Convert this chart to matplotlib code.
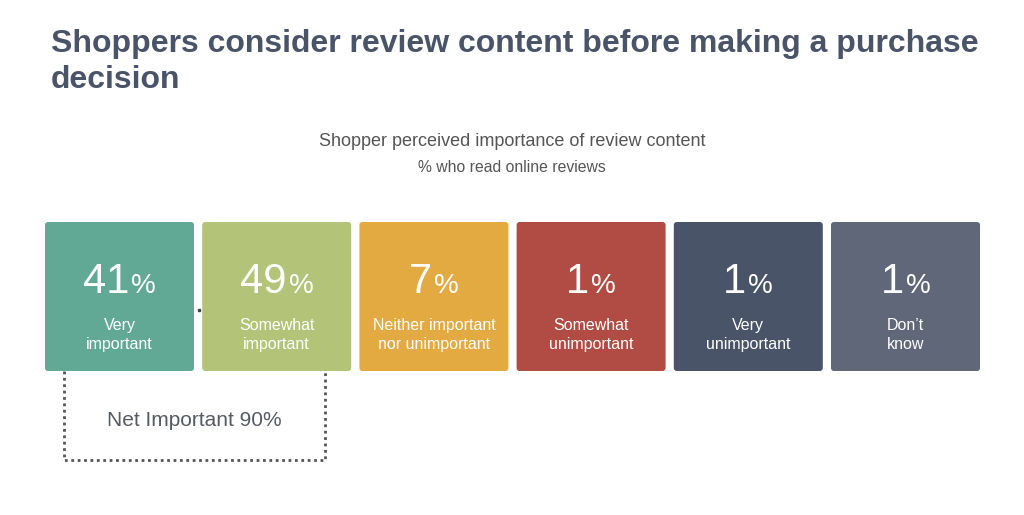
import matplotlib.pyplot as plt
from matplotlib.patches import FancyBboxPatch

# Data
values = [41, 49, 7, 1, 1, 1]
labels = ["Very\nimportant", "Somewhat\nimportant", "Neither important\nnor unimportant",
          "Somewhat\nunimportant", "Very\nunimportant", "Don\u2019t\nknow"]
colors = ["#62a995", "#b3c377", "#e3aa42", "#b04c43", "#4a5468", "#5f6779"]
net_label = "Net Important 90%"

title_lines = ["Shoppers consider review content before making a purchase", "decision"]
subtitle = "Shopper perceived importance of review content"
subtitle2 = "% who read online reviews"

plt.rcParams['font.family'] = ['Liberation Sans', 'DejaVu Sans']

W, H = 1024, 515
fig = plt.figure(figsize=(W / 100, H / 100), dpi=100)
ax = fig.add_axes([0, 0, 1, 1])
ax.set_xlim(0, W)
ax.set_ylim(H, 0)
ax.axis('off')

# title block
for k, line in enumerate(title_lines):
    ax.text(51, 52 + k * 36, line, fontsize=23, fontweight='bold', color="#4a5468",
            ha='left', va='baseline')
ax.text(512, 141, subtitle, fontsize=13, color="#555555", ha='center', va='center')
ax.text(512, 167, subtitle2, fontsize=11.3, color="#555555", ha='center', va='center')

# tiles
x0, step, tw = 45, 157.2, 149
top, th = 222, 149
fig.canvas.draw()
renderer = fig.canvas.get_renderer()
for i, (v, lab, c) in enumerate(zip(values, labels, colors)):
    x = x0 + i * step
    ax.add_patch(FancyBboxPatch((x + 2, top + 2), tw - 4, th - 4,
                                boxstyle="round,pad=2,rounding_size=3",
                                fc=c, ec='none'))
    cx = x + tw / 2
    num = ax.text(0, 293, str(v), fontsize=30, color='white', ha='left', va='baseline')
    pct = ax.text(0, 293, "%", fontsize=20, color='white', ha='left', va='baseline')
    wn = num.get_window_extent(renderer).width
    wp = pct.get_window_extent(renderer).width
    start = cx - (wn + wp + 2) / 2
    num.set_x(start)
    pct.set_x(start + wn + 2)
    ax.text(cx, 335, lab, fontsize=11.5, color='white', ha='center', va='center',
            linespacing=1.3)

# small dot between first two tiles
ax.plot([198.5], [310], marker='s', ms=1.5, color='#444444')

# dotted bracket for net important
ax.plot([64, 64, 325, 325], [371, 460, 460, 371], color='#555555', lw=2,
        linestyle=(0, (1, 1.3)))
ax.text(194.5, 420, net_label, fontsize=15, color='#555a63', ha='center', va='center')

fig.savefig("out.png", dpi=100)
